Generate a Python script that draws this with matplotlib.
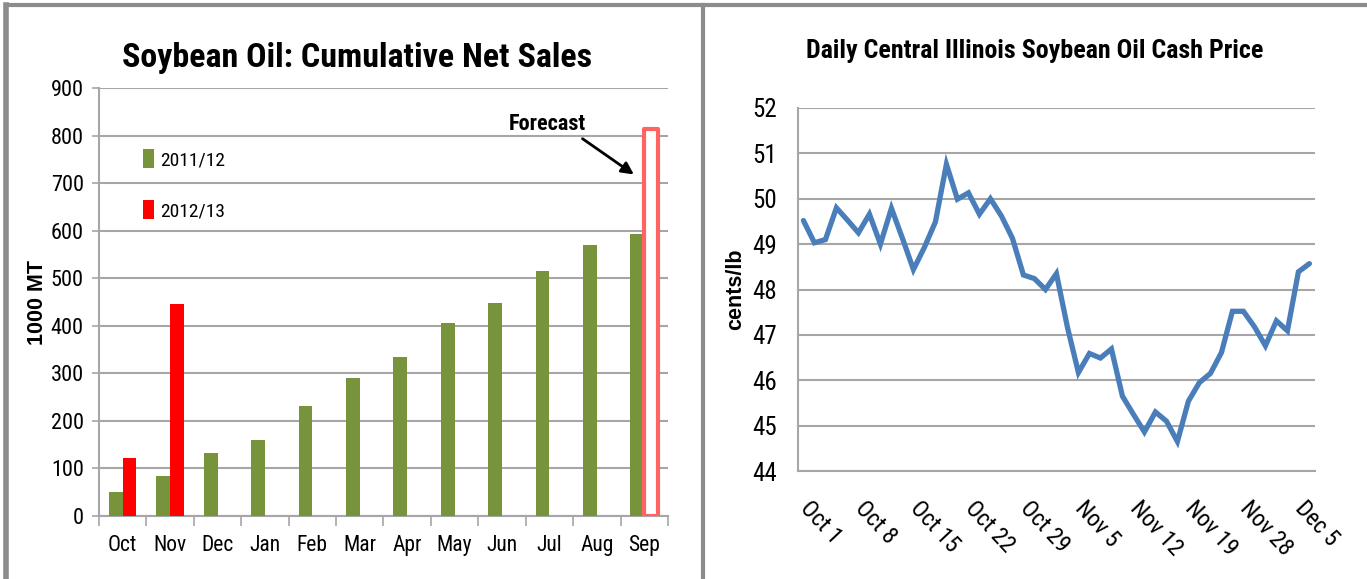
import matplotlib
matplotlib.use("Agg")
import matplotlib.pyplot as plt
from matplotlib import font_manager
from matplotlib.lines import Line2D
import numpy as np

# left chart: cumulative net sales, 1000 MT
MONTHS = ["Oct", "Nov", "Dec", "Jan", "Feb", "Mar", "Apr", "May", "Jun", "Jul", "Aug", "Sep"]
SALES_2011 = [50, 85, 133, 160, 232, 291, 334, 407, 447, 515, 571, 593]
SALES_2012 = [122, 445]
FORECAST = 815

# right chart: daily cash price, cents/lb
PRICE = [49.52, 49.03, 49.10, 49.80, 49.53, 49.25, 49.66, 49.00, 49.79, 49.13,
         48.44, 48.93, 49.49, 50.76, 49.99, 50.13, 49.66, 50.00, 49.62, 49.13,
         48.32, 48.24, 48.00, 48.35, 47.17, 46.17, 46.59, 46.49, 46.69, 45.65,
         45.25, 44.86, 45.30, 45.10, 44.65, 45.54, 45.95, 46.15, 46.61, 47.52,
         47.52, 47.18, 46.76, 47.31, 47.09, 48.39, 48.57]
WEEK_LABELS = ["Oct 1", "Oct 8", "Oct 15", "Oct 22", "Oct 29",
               "Nov 5", "Nov 12", "Nov 19", "Nov 28", "Dec 5"]

GREEN = "#77933C"
RED = "#FF0000"
BLUE = "#4A7EBB"
GRID = "#A6A6A6"

names = {f.name for f in font_manager.fontManager.ttflist}
NARROW = dict(family="DejaVu Sans", stretch="condensed")
for cand in ["Liberation Sans Narrow", "Roboto Condensed", "Open Sans Condensed"]:
    if cand in names:
        NARROW = dict(family=cand)
        break


def fp(size, **kw):
    return font_manager.FontProperties(size=size, **NARROW, **kw)


def main():
    fig = plt.figure(figsize=(13.67, 5.79), dpi=100)

    # ---- left: bar chart ----
    ax = fig.add_axes([0.0724, 0.1088, 0.4162, 0.739])
    x = np.arange(len(MONTHS))
    w = 0.29
    ax.bar(x - w / 2, SALES_2011, w, color=GREEN, zorder=3, label="2011/12")
    ax.bar(x[:len(SALES_2012)] + w / 2, SALES_2012, w, color=RED, zorder=3, label="2012/13")
    ax.bar(x[-1] + w / 2, FORECAST, w, facecolor="white", edgecolor="#FF6464",
           linewidth=3, zorder=4, joinstyle="round")

    ax.set_xlim(-0.5, len(MONTHS) - 0.5)
    ax.set_ylim(0, 900)
    ax.set_yticks(range(0, 901, 100))
    ax.yaxis.grid(True, color=GRID, linewidth=1.5, zorder=0)
    ax.set_xticks(x)
    ax.set_xticklabels(MONTHS)
    ax.set_xticks(np.arange(-0.5, len(MONTHS)), minor=True)
    ax.tick_params(axis="x", which="major", length=0, pad=14)
    ax.tick_params(axis="x", which="minor", length=7, color=GRID, width=1.2)
    ax.tick_params(axis="y", length=5, color=GRID, width=1.2, pad=6)
    for lab in ax.get_yticklabels():
        lab.set_fontproperties(fp(16))
    for lab in ax.get_xticklabels():
        lab.set_fontproperties(fp(15.5))
    for s in ["top", "right"]:
        ax.spines[s].set_visible(False)
    for s in ["left", "bottom"]:
        ax.spines[s].set_color(GRID)
        ax.spines[s].set_linewidth(1.5)
    ax.set_ylabel("1000 MT", family="Liberation Sans", fontweight="bold", fontsize=15.5)
    ax.yaxis.set_label_coords(-0.09, 0.5)

    ax.legend(loc="upper left", bbox_to_anchor=(0.064, 0.875), frameon=False,
              handlelength=0.55, handleheight=1.1, handletextpad=0.3, labelspacing=1.6,
              borderaxespad=0, prop=fp(14))

    ax.annotate("", xy=(10.83, 715), xytext=(9.65, 797),
                arrowprops=dict(arrowstyle="-|>", color="black", lw=2, mutation_scale=18))
    ax.text(8.95, 824, "Forecast", ha="center", va="center",
            fontproperties=fp(16, weight="bold"))

    fig.text(0.261, 0.9, "Soybean Oil: Cumulative Net Sales", ha="center", va="center",
             fontproperties=fp(24.5, weight="bold"))

    # ---- right: line chart ----
    ax2 = fig.add_axes([0.5837, 0.1865, 0.3782, 0.627])
    ax2.plot(np.arange(len(PRICE)), PRICE, color=BLUE, linewidth=3.8,
             solid_joinstyle="miter", solid_capstyle="round")
    ax2.set_xlim(-0.5, len(PRICE) - 0.5)
    ax2.set_ylim(44, 52)
    ax2.set_yticks(range(44, 53))
    ax2.yaxis.grid(True, color=GRID, linewidth=1.5, zorder=0)
    ax2.set_axisbelow(True)
    ax2.set_xticks(np.arange(0, len(PRICE) - 1, 5))
    ax2.set_xticklabels(WEEK_LABELS, rotation=-47, ha="left", va="center",
                        rotation_mode="anchor")
    for lab in ax2.get_xticklabels():
        lab.set_fontproperties(fp(17))
    ax2.tick_params(axis="x", length=0, pad=24)
    ax2.tick_params(axis="y", length=0, pad=15)
    for lab in ax2.get_yticklabels():
        lab.set_fontproperties(fp(18))
    for s in ["top", "right"]:
        ax2.spines[s].set_visible(False)
    for s in ["left", "bottom"]:
        ax2.spines[s].set_color(GRID)
        ax2.spines[s].set_linewidth(1.5)
    ax2.set_ylabel("cents/lb", family="Liberation Sans", fontweight="bold", fontsize=15.5)
    ax2.yaxis.set_label_coords(-0.1, 0.5)

    fig.text(0.757, 0.912, "Daily Central Illinois Soybean Oil Cash Price", ha="center",
             va="center", fontproperties=fp(18.7, weight="bold"))

    # panel frame
    fc = "#8C8C8C"
    fig.add_artist(Line2D([0.0044, 1.0], [0.991, 0.991], color=fc, lw=3, transform=fig.transFigure))
    fig.add_artist(Line2D([0.0044, 0.0044], [0.0, 0.991], color=fc, lw=4, transform=fig.transFigure))
    fig.add_artist(Line2D([0.5143, 0.5143], [0.0, 0.991], color=fc, lw=3, transform=fig.transFigure))

    fig.savefig("out.png", dpi=100)


if __name__ == "__main__":
    main()
